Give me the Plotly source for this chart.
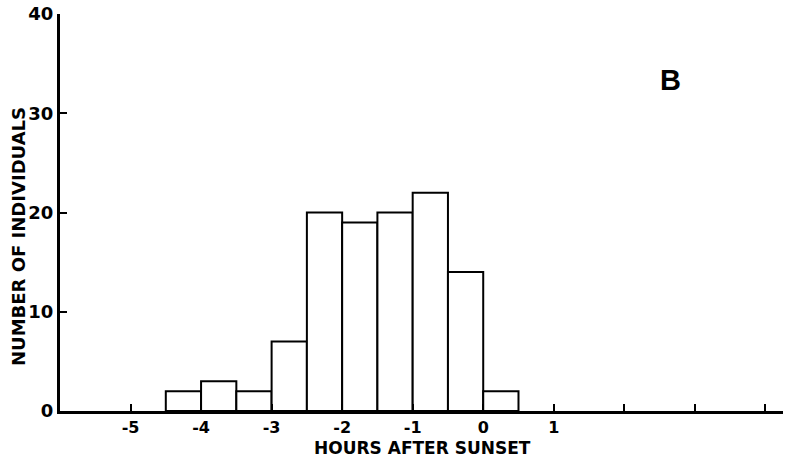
import plotly.graph_objects as go

bin_left = [-4.5, -4.0, -3.5, -3.0, -2.5, -2.0, -1.5, -1.0, -0.5, 0.0]
counts = [2, 3, 2, 7, 20, 19, 20, 22, 14, 2]
bin_width = 0.5
x_tick_vals = [-5, -4, -3, -2, -1, 0, 1, 2, 3, 4]
x_tick_text = ["-5", "-4", "-3", "-2", "-1", "0", "1", "", "", ""]
y_tick_vals = [0, 10, 20, 30, 40]

centers = [b + bin_width / 2 for b in bin_left]

fig = go.Figure(go.Bar(
    x=centers, y=counts, width=bin_width,
    marker=dict(color="white", line=dict(color="black", width=2)),
))

font_family = "DejaVu Sans, Liberation Sans, sans-serif"

# plot area target (page px): 60..783 x 14..411
PL, PR, PT, PB = 60, 783, 14, 411
W, H = 785, 462

def px(xp):
    return (xp - PL) / (PR - PL)

def py(yp):
    return (PB - yp) / (PB - PT)

fig.update_layout(
    width=W, height=H,
    margin=dict(l=PL, r=W - PR, t=PT, b=H - PB),
    paper_bgcolor="white", plot_bgcolor="white",
    showlegend=False,
    xaxis=dict(
        range=[-6, 4.25], tickvals=x_tick_vals, ticktext=x_tick_text,
        ticks="inside", ticklen=7, tickwidth=2, tickcolor="black",
        showline=True, linecolor="black", linewidth=3,
        showgrid=False, zeroline=False, automargin=False,
        tickfont=dict(family=font_family, size=16, color="black", weight="bold"),
    ),
    yaxis=dict(
        range=[0, 40], tickvals=y_tick_vals,
        ticks="inside", ticklen=7, tickwidth=2, tickcolor="black",
        showline=True, linecolor="black", linewidth=3,
        showgrid=False, zeroline=False, automargin=False,
        ticklabeloverflow="allow",
        tickfont=dict(family=font_family, size=18, color="black", weight="bold"),
    ),
    annotations=[
        dict(text="HOURS AFTER SUNSET", xref="paper", yref="paper",
             x=px(422), y=py(448), showarrow=False,
             xanchor="center", yanchor="middle",
             font=dict(family=font_family, size=17, color="black", weight="bold")),
        dict(text="NUMBER OF INDIVIDUALS", xref="paper", yref="paper",
             x=px(18), y=py(237), showarrow=False, textangle=-90,
             xanchor="center", yanchor="middle",
             font=dict(family=font_family, size=18, color="black", weight="bold")),
        dict(text="B", xref="paper", yref="paper",
             x=px(670), y=py(80), showarrow=False,
             xanchor="center", yanchor="middle",
             font=dict(family="Liberation Sans, Arial, sans-serif", size=29, color="black", weight="bold")),
    ],
)

fig.write_html("out.html", config={"displayModeBar": False},
               post_script="document.body.style.margin='0px';")
